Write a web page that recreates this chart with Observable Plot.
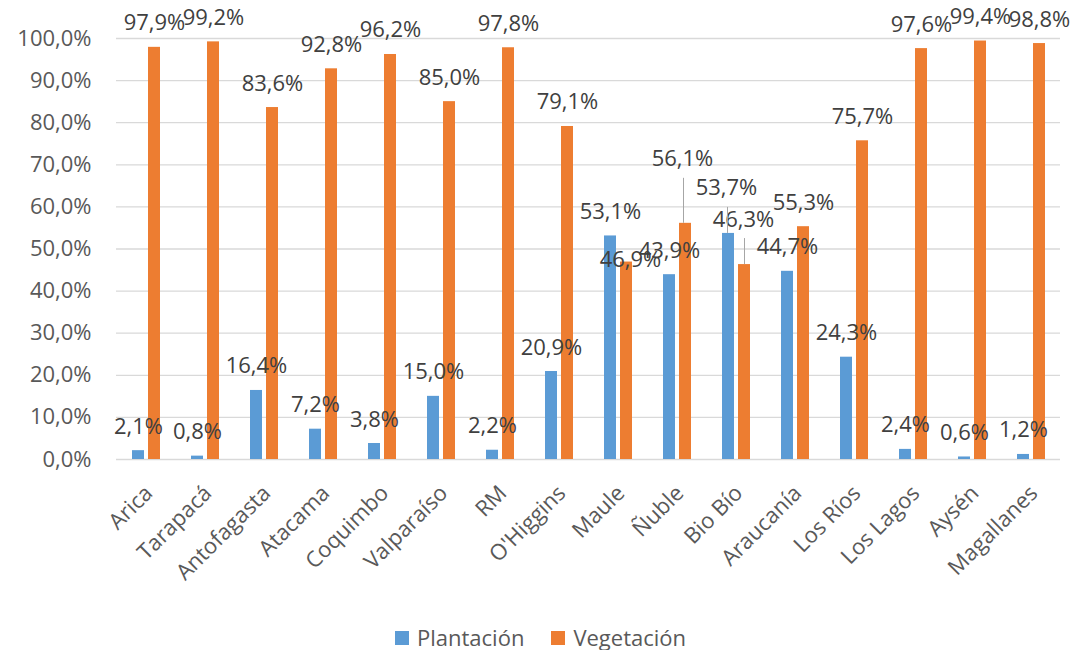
<!DOCTYPE html>
<html>
<head>
<meta charset="utf-8">
<script src="https://cdn.jsdelivr.net/npm/d3@7"></script>
<script src="https://cdn.jsdelivr.net/npm/@observablehq/plot@0.6"></script>
<style>
  html, body { margin: 0; padding: 0; background: #fff; }
  body { width: 1075px; height: 650px; position: relative; overflow: hidden; font-family: "Open Sans", sans-serif; }
  #legend { position: absolute; left: 395px; top: 622px; height: 30px; display: flex; align-items: center; font-size: 22px; color: #595959; line-height: 30px; }
  .item { display: flex; align-items: center; }
  .sw { width: 14px; height: 14px; margin-right: 8px; margin-top: 1px; }
</style>
</head>
<body>
<div id="chart"></div>
<div id="legend"></div>
<script>
// ---- data ----
const regions = ["Arica", "Tarapacá", "Antofagasta", "Atacama", "Coquimbo", "Valparaíso", "RM", "O'Higgins",
  "Maule", "Ñuble", "Bio Bío", "Araucanía", "Los Ríos", "Los Lagos", "Aysén", "Magallanes"];
const seriesNames = ["Plantación", "Vegetación"];
const plantacion = [2.1, 0.8, 16.4, 7.2, 3.8, 15.0, 2.2, 20.9, 53.1, 43.9, 53.7, 44.7, 24.3, 2.4, 0.6, 1.2];
const vegetacion = [97.9, 99.2, 83.6, 92.8, 96.2, 85.0, 97.8, 79.1, 46.9, 56.1, 46.3, 55.3, 75.7, 97.6, 99.4, 98.8];
const yTicks = [0, 10, 20, 30, 40, 50, 60, 70, 80, 90, 100];
const seriesColors = ["#5B9BD5", "#ED7D31"];

// manually moved data labels (pixel nudges, as in the original)
const labelNudges = [
  {region: "Maule", series: "Vegetación", dx: 4, dy: 22, leader: false},
  {region: "Ñuble", series: "Vegetación", dx: -3, dy: -40, leader: true},
  {region: "Bio Bío", series: "Plantación", dx: -2, dy: -21, leader: true},
  {region: "Bio Bío", series: "Vegetación", dx: -1, dy: -21, leader: true}
];

// ---- layout ----
const W = 1075, H = 612, mt = 38, mb = 153, ml = 113, mr = 13;
const pxPerUnit = (H - mt - mb) / 100;
const fmt = v => v.toFixed(1).replace(".", ",") + "%";

const rows = regions.flatMap((r, i) => [
  {region: r, series: seriesNames[0], value: plantacion[i]},
  {region: r, series: seriesNames[1], value: vegetacion[i]}
]);
const isNudged = d => labelNudges.some(n => n.region === d.region && n.series === d.series);
const findRow = n => rows.find(d => d.region === n.region && d.series === n.series);

const labelFont = {fontSize: 22, fill: "#404040", lineAnchor: "bottom", fontFamily: "Open Sans"};

const marks = [
  Plot.gridY(yTicks, {stroke: "#D9D9D9", strokeOpacity: 1, strokeWidth: 1.3}),
  Plot.barY(rows, {fx: "region", x: "series", y: "value", fill: "series"}),
  Plot.text(rows.filter(d => !isNudged(d)), {fx: "region", x: "series", y: "value", text: d => fmt(d.value), dy: -17, ...labelFont}),
  ...labelNudges.map(n => {
    const d = findRow(n);
    return Plot.text([d], {fx: "region", x: "series", y: "value", text: v => fmt(v.value), dx: n.dx, dy: -17 + n.dy, ...labelFont});
  }),
  ...labelNudges.filter(n => n.leader).map(n => {
    const d = findRow(n);
    return Plot.ruleX([d], {fx: "region", x: "series", y1: "value", y2: v => v.value + (5 - n.dy) / pxPerUnit, stroke: "#A6A6A6", strokeWidth: 1, dx: n.dx + 1});
  }),
  Plot.axisY(yTicks, {tickFormat: fmt, tickSize: 0, tickPadding: 25, fontSize: 22, fill: "#595959", label: null}),
  Plot.axisFx({anchor: "bottom", tickRotate: -45, tickSize: 0, tickPadding: 30, dx: 3, fontSize: 22, fill: "#595959", label: null})
];

const chart = Plot.plot({
  width: W, height: H,
  marginTop: mt, marginBottom: mb, marginLeft: ml, marginRight: mr,
  style: {fontFamily: "Open Sans", fontSize: "22px", color: "#595959", background: "white", overflow: "visible"},
  fx: {domain: regions, paddingInner: 0, paddingOuter: 0, label: null},
  x: {domain: seriesNames, paddingInner: 0.25, paddingOuter: 0.88, axis: null},
  y: {domain: [0, 100], axis: null},
  color: {domain: seriesNames, range: seriesColors},
  marks
});
document.getElementById("chart").append(chart);

// legend
const legend = document.getElementById("legend");
seriesNames.forEach((s, i) => {
  const it = document.createElement("div");
  it.className = "item";
  if (i > 0) it.style.marginLeft = "27px";
  const sw = document.createElement("span");
  sw.className = "sw";
  sw.style.background = seriesColors[i];
  const t = document.createElement("span");
  t.textContent = s;
  it.append(sw, t);
  legend.append(it);
});
</script>
</body>
</html>
